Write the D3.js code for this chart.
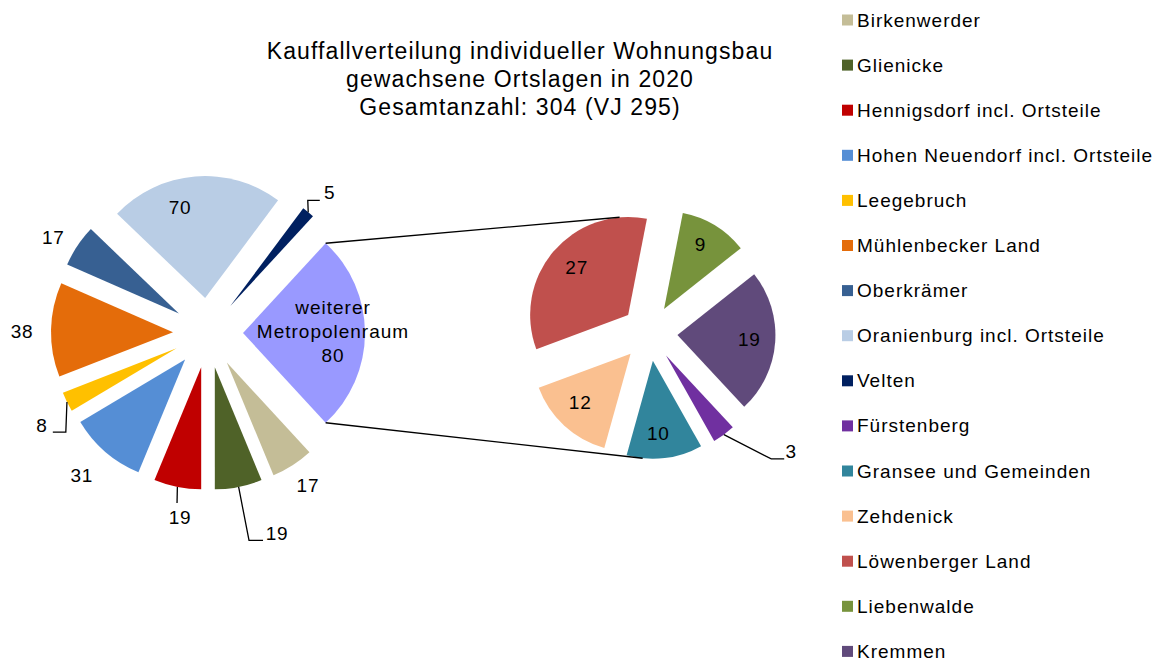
<!DOCTYPE html>
<html>
<head>
<meta charset="utf-8">
<title>Kauffallverteilung</title>
<script src="https://cdn.jsdelivr.net/npm/d3@7/dist/d3.min.js"></script>
<style>
  body { margin: 0; background: #fff; }
  text { font-family: "Liberation Sans", Arial, sans-serif; fill: #000; }
</style>
</head>
<body>
<svg width="1160" height="662"></svg>
<script>
    // data
    const mainNames = ["Birkenwerder", "Glienicke", "Hennigsdorf incl. Ortsteile", "Hohen Neuendorf incl. Ortsteile",
        "Leegebruch", "Mühlenbecker Land", "Oberkrämer", "Oranienburg incl. Ortsteile", "Velten", "weiterer Metropolenraum"];
    const mainValues = [17, 19, 19, 31, 8, 38, 17, 70, 5, 80];
    const mainColors = ["#C4BD97", "#4F6228", "#C00000", "#558ED5", "#FFC000", "#E46C0A", "#376092", "#B9CDE5", "#002060", "#9999FF"];

    const subNames = ["Fürstenberg", "Gransee und Gemeinden", "Zehdenick", "Löwenberger Land", "Liebenwalde", "Kremmen"];
    const subValues = [3, 10, 12, 27, 9, 19];
    const subColors = ["#7030A0", "#31859C", "#FAC090", "#C0504D", "#77933C", "#604A7B"];

    const titleLines = ["Kauffallverteilung individueller Wohnungsbau", "gewachsene Ortslagen in 2020", "Gesamtanzahl: 304 (VJ 295)"];

    // layout: label positions as [angle deg, radius] around each pie centre
    const mainLabelPolar = [[146.7, 182], [161, 212], [188.6, 187], [221.6, 190], [241, 190], [270.6, 186], [301.8, 182], [347.5, 129], [40.9, 186], [89.5, 125]];
    const subLabelPolar = [[130, 185], [175, 101], [225, 98], [312, 98], [30, 102], [94, 100]];
    // leader elbows, relative to label position
    const mainLeaders = { 1: [[-28, 7], [-14, 7]], 2: [[-3, -15]], 4: [[24, 7], [11, 7]], 8: [[-22, 8], [-10, 8]] };
    const subLeaders = { 0: [[-20, 7], [-7, 7]] };

    const svg = d3.select("svg");
    const rad = d => d * Math.PI / 180;
    const polar = (c, a, r) => [c[0] + r * Math.sin(rad(a)), c[1] - r * Math.cos(rad(a))];
    const deg = a => a * 180 / Math.PI;

    function drawPie(opts) {
        const total = d3.sum(opts.values);
        const lastAng = opts.values[opts.values.length - 1] / total * 360;
        const start = 90 + lastAng / 2 + opts.rotate;
        const pie = d3.pie().sort(null).value(d => d)
            .startAngle(rad(start)).endAngle(rad(start + 360));
        const arcs = pie(opts.values);
        const arc = d3.arc().innerRadius(0).outerRadius(opts.r);
        const g = svg.append("g").attr("transform", `translate(${opts.c[0]},${opts.c[1]})`);

        arcs.forEach(a => a.mid = deg((a.startAngle + a.endAngle) / 2));

        g.selectAll("path")
            .data(arcs)
            .enter().append("path")
            .attr("d", arc)
            .attr("fill", (d, i) => opts.colors[i])
            .attr("transform", d => {
                const p = polar([0, 0], d.mid, opts.explode);
                return `translate(${p[0]},${p[1]})`;
            });

        // leader lines
        Object.keys(opts.leaders).forEach(k => {
            const a = arcs[k];
            const tip = polar(opts.c, a.mid, opts.explode);
            const outer = polar(tip, a.mid, opts.r);
            const lab = polar(opts.c, opts.labelPolar[k][0], opts.labelPolar[k][1]);
            const pts = [outer].concat(opts.leaders[k].map(o => [lab[0] + o[0], lab[1] + o[1]]));
            svg.append("path")
                .attr("d", d3.line()(pts))
                .attr("fill", "none")
                .attr("stroke", "#000")
                .attr("stroke-width", 1.3);
        });

        // value labels
        arcs.forEach((a, i) => {
            if (opts.skipLabel === i) return;
            const p = polar(opts.c, opts.labelPolar[i][0], opts.labelPolar[i][1]);
            svg.append("text")
                .attr("x", p[0]).attr("y", p[1])
                .attr("text-anchor", "middle")
                .attr("dominant-baseline", "central")
                .attr("font-size", "19px")
                .attr("letter-spacing", "0.8px")
                .text(a.data);
        });
        return arcs;
    }

    const mainC = [208, 333], mainR = 122, mainExp = 35;
    const subC = [649.5, 333], subR = 98, subExp = 28;

    const mainArcs = drawPie({ c: mainC, r: mainR, explode: mainExp, values: mainValues, colors: mainColors, rotate: 0,
        labelPolar: mainLabelPolar, leaders: mainLeaders, skipLabel: mainValues.length - 1 });
    const subArcs = drawPie({ c: subC, r: subR, explode: subExp, values: subValues, colors: subColors, rotate: 4.3,
        labelPolar: subLabelPolar, leaders: subLeaders });

    // composite slice label
    const other = mainArcs[mainArcs.length - 1];
    const op = polar(mainC, mainLabelPolar[9][0], mainLabelPolar[9][1]);
    const otherLines = ["weiterer", "Metropolenraum", other.data];
    svg.append("g").selectAll("text")
        .data(otherLines)
        .enter().append("text")
        .attr("x", op[0])
        .attr("y", (d, i) => op[1] + (i - 1) * 24)
        .attr("text-anchor", "middle")
        .attr("dominant-baseline", "central")
        .attr("font-size", "19px")
        .attr("letter-spacing", "1px")
        .text(d => d);

    // connector lines between the pies
    const otherTip = polar(mainC, other.mid, mainExp);
    const topA = polar(otherTip, deg(other.startAngle), mainR);
    const botA = polar(otherTip, deg(other.endAngle), mainR);
    const lw = subArcs[3], gr = subArcs[1];
    const topB = polar(polar(subC, lw.mid, subExp), -5, subR);
    const botB = polar(polar(subC, gr.mid, subExp), 186, subR);
    [[topA, topB], [botA, botB]].forEach(seg => {
        svg.append("line")
            .attr("x1", seg[0][0]).attr("y1", seg[0][1])
            .attr("x2", seg[1][0]).attr("y2", seg[1][1])
            .attr("stroke", "#000")
            .attr("stroke-width", 1.3);
    });

    // title
    svg.append("g").selectAll("text")
        .data(titleLines)
        .enter().append("text")
        .attr("x", 520)
        .attr("y", (d, i) => 59 + i * 28)
        .attr("text-anchor", "middle")
        .attr("font-size", "23px")
        .attr("letter-spacing", "1.1px")
        .text(d => d);

    // legend
    const legNames = mainNames.slice(0, -1).concat(subNames);
    const legColors = mainColors.slice(0, -1).concat(subColors);
    const leg = svg.append("g").selectAll("g")
        .data(legNames)
        .enter().append("g")
        .attr("transform", (d, i) => `translate(842,${20 + i * 45.1})`);
    leg.append("rect")
        .attr("x", 0).attr("y", -5.5)
        .attr("width", 11).attr("height", 11)
        .attr("fill", (d, i) => legColors[i]);
    leg.append("text")
        .attr("x", 15).attr("y", 6.5)
        .attr("font-size", "19px")
        .attr("letter-spacing", "1px")
        .text(d => d);
</script>
</body>
</html>
